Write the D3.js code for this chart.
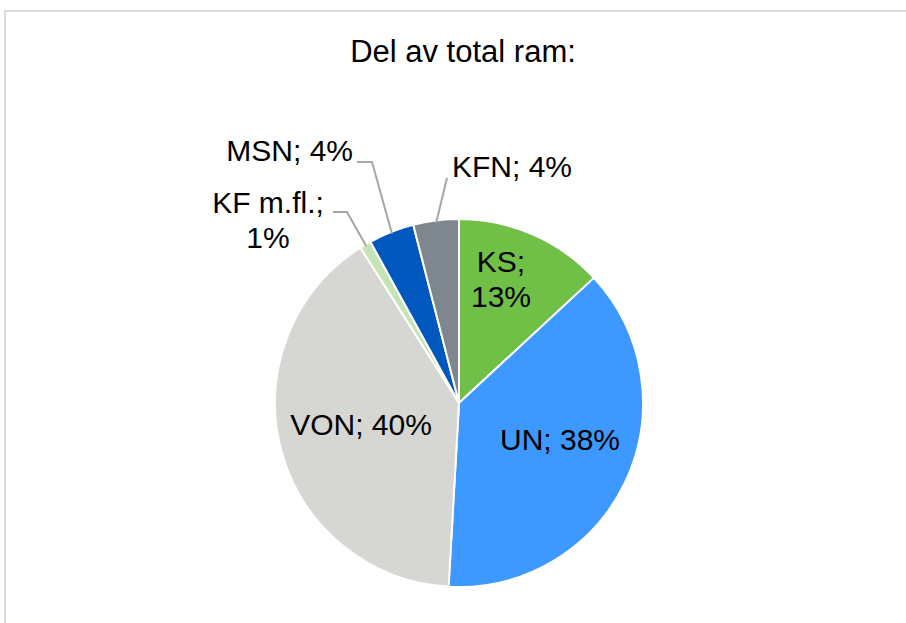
<!DOCTYPE html>
<html>
<head>
<meta charset="utf-8">
<script src="https://cdn.jsdelivr.net/npm/d3@7"></script>
<style>
  body { margin: 0; background: #fff; }
  svg { display: block; font-family: Arial, "Liberation Sans", sans-serif; }
</style>
</head>
<body>
<svg width="906" height="623"></svg>
<script>

// chart data
var title = 'Del av total ram:';
var categories = ['KS', 'UN', 'VON', 'KF m.fl.', 'MSN', 'KFN'];
var values = [13.1, 37.8, 40.1, 1.0, 4.0, 4.0];
var colors = ['#70bf46', '#3d98ff', '#d6d6d2', '#c5e4b5', '#0058bf', '#7e878d'];

// label layout, relative to pie centre
// x/y = text anchor (baseline of first line), split = two lines,
// leader = [endX, endY, elbowX] or null for inside labels
var labelLayout = [
   {x: 42, y: -131, anchor: 'middle', split: true, leader: null},
   {x: 101, y: 47, anchor: 'middle', split: false, leader: null},
   {x: -98, y: 32, anchor: 'middle', split: false, leader: null},
   {x: -191, y: -190, anchor: 'middle', split: true, leader: [-126, -191, -112]},
   {x: -106, y: -242, anchor: 'end', split: false, leader: [-102, -241, -87]},
   {x: -7, y: -226, anchor: 'start', split: false, leader: [-12, -225, null]}
];

var cx = 459, cy = 403, r = 184;

var svg = d3.select('svg');

// outer frame
svg.append('path')
   .attr('d', 'M5,623 V11 H906')
   .attr('fill', 'none')
   .attr('stroke', '#d9d9d9')
   .attr('stroke-width', 2);

svg.append('text')
   .attr('x', 463)
   .attr('y', 62)
   .attr('text-anchor', 'middle')
   .attr('font-size', 31)
   .attr('fill', '#000')
   .text(title);

var data = categories.map(function(c, i) {
   return {name: c, value: values[i], color: colors[i], layout: labelLayout[i]};
});

var pie = d3.pie()
   .sort(null)
   .value(function(d) { return d.value; });

var arc = d3.arc().innerRadius(0).outerRadius(r);

var g = svg.append('g').attr('transform', 'translate(' + cx + ',' + cy + ')');

var arcs = pie(data);

g.selectAll('path.slice')
   .data(arcs)
   .enter()
   .append('path')
   .attr('class', 'slice')
   .attr('d', arc)
   .attr('fill', function(d) { return d.data.color; })
   .attr('stroke', '#fff')
   .attr('stroke-width', 2)
   .attr('stroke-linejoin', 'round');

// leader lines for outside labels
g.selectAll('polyline.leader')
   .data(arcs.filter(function(d) { return d.data.layout.leader; }))
   .enter()
   .append('polyline')
   .attr('class', 'leader')
   .attr('fill', 'none')
   .attr('stroke', '#a6a6a6')
   .attr('stroke-width', 2)
   .attr('points', function(d) {
      var mid = (d.startAngle + d.endAngle) / 2;
      var p0 = [Math.sin(mid) * (r - 2), -Math.cos(mid) * (r - 2)];
      var ld = d.data.layout.leader;
      var pts = [p0];
      if (ld[2] !== null) pts.push([ld[2], ld[1]]);
      pts.push([ld[0], ld[1]]);
      return pts.join(' ');
   });

// labels
var labels = g.selectAll('text.label')
   .data(arcs)
   .enter()
   .append('text')
   .attr('class', 'label')
   .attr('font-size', 30)
   .attr('fill', '#000')
   .attr('text-anchor', function(d) { return d.data.layout.anchor; });

labels.each(function(d) {
   var t = d3.select(this);
   var L = d.data.layout;
   var pct = Math.round(d.data.value) + '%';
   var parts = L.split ? [d.data.name + ';', pct] : [d.data.name + '; ' + pct];
   t.selectAll('tspan')
      .data(parts)
      .enter()
      .append('tspan')
      .attr('x', L.x)
      .attr('y', function(p, i) { return L.y + i * 35; })
      .text(function(p) { return p; });
});

</script>
</body>
</html>
